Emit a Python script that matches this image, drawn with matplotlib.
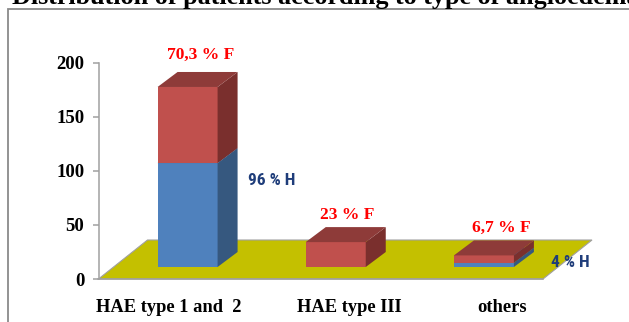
import matplotlib
matplotlib.use("Agg")
import matplotlib.pyplot as plt
from matplotlib.patches import Polygon, Rectangle

# ---- data ----
categories = ["HAE type 1 and  2", "HAE type III", "others"]
men_values = [96, 0, 4]          # H (blue, lower segment)
women_values = [70.3, 23, 6.7]   # F (red, upper segment)
men_labels = ["96 % H", None, "4 % H"]
women_labels = ["70,3 % F", "23 % F", "6,7 % F"]
yticks = [0, 50, 100, 150, 200]
title = "Distribution of patients according to type of angioedema"

# ---- style ----
SERIF = ["Liberation Serif", "DejaVu Serif"]
NARROW = ["Liberation Sans Narrow", "Roboto Condensed", "DejaVu Sans Condensed",
          "Liberation Sans"]
BLUE_FRONT, BLUE_SIDE, BLUE_TOP = "#4F81BD", "#36587F", "#3D6594"
RED_FRONT, RED_SIDE, RED_TOP = "#C0504D", "#7A2F2D", "#8E3B39"
FLOOR = "#C4C000"
GRID_GREY = "#A0A0A0"

W, H, DPI = 629, 322, 100
fig = plt.figure(figsize=(W / DPI, H / DPI), dpi=DPI)

# plot area (pixel geometry of the value axis)
x_left, x_right = 98.5, 543.0
y_zero, y_top = 279.0, 62.5
ax = fig.add_axes([x_left / W, (H - y_zero) / H,
                   (x_right - x_left) / W, (y_zero - y_top) / H])
ax.set_xlim(-0.5, 2.5)
ax.set_ylim(0, 200)
ax.set_facecolor("none")

px_x = (x_right - x_left) / 3.0      # pixels per category unit
px_y = (y_zero - y_top) / 200.0      # pixels per value unit


def dx(p):
    return p / px_x


def dy(p):
    return p / px_y


# oblique projection geometry
floor_dx, floor_dy = dx(49), dy(39)
shift_x, shift_y = dx(15), dy(12)     # bar front face sits inside the floor
bar_dx, bar_dy = dx(20), dy(15)       # bar depth
bar_w = dx(60)

# floor
floor = Polygon([(-0.5, 0), (2.5, 0), (2.5 + floor_dx, floor_dy),
                 (-0.5 + floor_dx, floor_dy)], closed=True,
                facecolor=FLOOR, edgecolor=GRID_GREY, lw=0.8,
                zorder=1, clip_on=False)
ax.add_patch(floor)


def box(cx, b, t, front, side, top):
    x0, x1 = cx - bar_w / 2, cx + bar_w / 2
    yb, yt = shift_y + b, shift_y + t
    ax.add_patch(Polygon([(x0, yb), (x1, yb), (x1, yt), (x0, yt)],
                         facecolor=front, edgecolor="none", zorder=3, clip_on=False))
    ax.add_patch(Polygon([(x1, yb), (x1 + bar_dx, yb + bar_dy),
                          (x1 + bar_dx, yt + bar_dy), (x1, yt)],
                         facecolor=side, edgecolor="none", zorder=3, clip_on=False))
    ax.add_patch(Polygon([(x0, yt), (x1, yt), (x1 + bar_dx, yt + bar_dy),
                          (x0 + bar_dx, yt + bar_dy)],
                         facecolor=top, edgecolor="none", zorder=3, clip_on=False))


# label offsets in pixels, relative to the anchors computed below
women_off = [(3, 17), (1, 12), (7, 13)]
men_off = [(34, -32), None, (36, -15)]
cat_off = [-4, 28.5, 33]

for i, (m, f) in enumerate(zip(men_values, women_values)):
    cx = i + shift_x
    if m > 0:
        box(cx, 0, m, BLUE_FRONT, BLUE_SIDE, BLUE_TOP)
    box(cx, m, m + f, RED_FRONT, RED_SIDE, RED_TOP)

    # red value label above the back edge of the box
    ox, oy = women_off[i]
    ax.annotate(women_labels[i], (cx + bar_dx / 2, shift_y + m + f + bar_dy),
                xytext=(ox, oy), textcoords="offset pixels",
                ha="center", va="center", color="#FF0000",
                fontsize=12.6, fontweight="bold", family=SERIF,
                annotation_clip=False, zorder=5)
    if men_labels[i]:
        ox, oy = men_off[i]
        ax.annotate(men_labels[i], (cx + bar_w / 2 + bar_dx, shift_y + m + bar_dy),
                    xytext=(ox, oy), textcoords="offset pixels",
                    ha="center", va="center", color="#1F3D7A",
                    fontsize=12.5, fontweight="bold", family=NARROW,
                    annotation_clip=False, zorder=5)

    # category label below the floor
    ax.annotate(categories[i], (i, 0), xytext=(cat_off[i], -33),
                textcoords="offset pixels", ha="center", va="baseline",
                fontsize=13.3, fontweight="bold", family=SERIF,
                annotation_clip=False)

# axes styling
for s in ("top", "right"):
    ax.spines[s].set_visible(False)
for s in ("left", "bottom"):
    ax.spines[s].set_color(GRID_GREY)
    ax.spines[s].set_linewidth(1.1)
ax.spines["bottom"].set_zorder(2)
ax.set_xticks([])
ax.set_yticks(yticks)
ax.set_yticklabels([str(v) for v in yticks], family=SERIF,
                   fontweight="bold", fontsize=13.5)
ax.tick_params(axis="y", direction="out", length=4.3, width=1.1,
               color=GRID_GREY, pad=6)

# chart-area frame and title
fig.patches.append(Rectangle((7.5 / W, -0.2), 2.0, (H - 9) / H + 0.2,
                             transform=fig.transFigure, fill=False,
                             edgecolor="#8A8A8A", lw=1.3))
fig.text(12 / W, (H - 4) / H, title, ha="left", va="baseline",
         fontsize=18.8, fontweight="bold", family=SERIF)

fig.savefig("out.png", dpi=DPI)
